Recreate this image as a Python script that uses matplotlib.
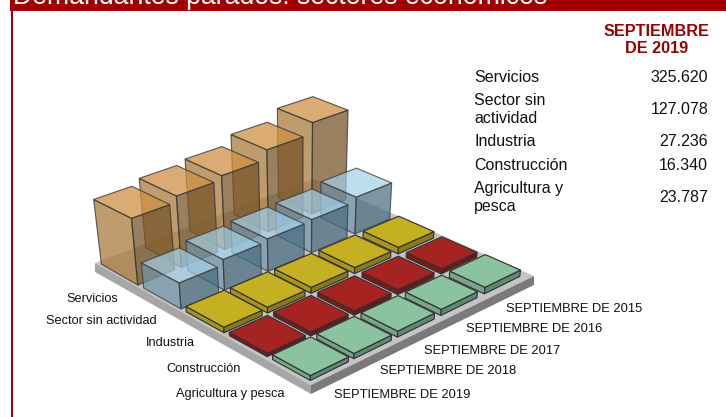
import numpy as np
import matplotlib
matplotlib.use('Agg')
import matplotlib.pyplot as plt
from matplotlib.patches import Polygon, Rectangle

plt.rcParams['font.family'] = ['Liberation Sans', 'DejaVu Sans']

titulo = 'Demandantes parados: sectores económicos'
anios = ['SEPTIEMBRE DE 2019', 'SEPTIEMBRE DE 2018', 'SEPTIEMBRE DE 2017',
         'SEPTIEMBRE DE 2016', 'SEPTIEMBRE DE 2015']
sectores = ['Agricultura y pesca', 'Construcción', 'Industria',
            'Sector sin actividad', 'Servicios']

# values per year, 2019 first; only 2019 is printed in the picture
agricultura = [23787, 26000, 29000, 30000, 32000]
construccion = [16340, 20000, 22000, 24000, 25000]
industria = [27236, 28000, 29000, 29500, 32000]
sin_actividad = [127078, 150000, 159000, 162000, 180000]
servicios = [325620, 348000, 361000, 401000, 448000]
series = [agricultura, construccion, industria, sin_actividad, servicios]

# top, left and right face colours, alpha
estilos = [('#8BC2A0', '#78A58A', '#5E8A70', 1),
           ('#A52421', '#7A1A18', '#6E1816', 1),
           ('#C4B020', '#A8961C', '#8A7A18', 1),
           ('#A2D0E9', '#7095AB', '#476A7E', 0.7),
           ('#CE9144', '#AA7B3E', '#775529', 0.75)]

# picture of the cell grid corners: front, right, back, left
F, R, B, L = [np.array(p, float) for p in [(310.3, 383.2), (527.75, 276.25), (312.25, 180.75), (94.7, 263.75)]]
placa = [(311, 385), (534, 276), (314, 179), (95, 263)]
caida = 9
fuga_x = 300
kx = 1.2e-7
ky = 1.996e-4
mitad = 0.43


def suelo(u, v):
    s, t = u / 5, v / 5
    return (1 - s) * (1 - t) * F + s * (1 - t) * R + s * t * B + (1 - s) * t * L


def caja(ax, uc, vc, z, estilo, borde='#333333', lw=0.85):
    top, izq, der, alpha = estilo
    gc = suelo(uc, vc)
    m = 1.03 - 0.018 * uc  # cells get smaller towards the right
    plano = 1 - 3e-7 * z   # high tops look flatter
    s = 1 + kx * z
    cima = []
    base = []
    for a, b in [(-1, -1), (1, -1), (1, 1), (-1, 1)]:
        d = suelo(uc + a * mitad, vc + b * mitad) - gc
        x = gc[0] + (gc[0] - fuga_x) * kx * z + m * d[0]
        cima.append((x, gc[1] - ky * z + m * plano * d[1]))
        base.append((fuga_x + (x - fuga_x) / s, gc[1] + m * d[1]))
    orden = 20 - uc - vc
    ax.add_patch(Polygon([base[0], base[3], cima[3], cima[0]], fc=izq, ec=borde, lw=lw, alpha=alpha, zorder=orden))
    ax.add_patch(Polygon([base[1], base[0], cima[0], cima[1]], fc=der, ec=borde, lw=lw, alpha=alpha, zorder=orden))
    ax.add_patch(Polygon(cima, fc=top, ec=borde, lw=lw, alpha=alpha, zorder=orden))


fig = plt.figure(figsize=(7.26, 4.17), dpi=100)
ax = fig.add_axes([0, 0, 1, 1])
ax.set_xlim(0, 726)
ax.set_ylim(417, 0)
ax.axis('off')

ax.add_patch(Rectangle((10, 0), 716, 11, fc='#A00000', ec='none'))
ax.add_patch(Rectangle((11, 11), 2.2, 406, fc='#A00000', ec='none'))
ax.text(13, 4, titulo, color='white', fontsize=19.2, ha='left', va='baseline')

# floor plate
bajo = [(x, y + caida) for x, y in placa]
ax.add_patch(Polygon(placa, fc='#C4C4C4', ec='none', zorder=1))
ax.add_patch(Polygon([placa[0], placa[3], bajo[3], bajo[0]], fc='#A6A6A6', ec='none', zorder=1))
ax.add_patch(Polygon([placa[0], placa[1], bajo[1], bajo[0]], fc='#7A7A7A', ec='none', zorder=1))

for j, serie in enumerate(series):
    for i, valor in enumerate(serie):
        caja(ax, i + 0.5, j + 0.5, valor, estilos[j])

# axis labels
x_sect = [176, 166, 146, 46, 66]
y_sect = [394, 368, 342, 320, 298]
for s, x, y in zip(sectores, x_sect, y_sect):
    ax.text(x, y + 0.5, s, fontsize=9.2, color='#111111', ha='left', va='center')
x_anio = [334, 380, 424, 466, 506]
y_anio = [395, 371, 351, 329, 309]
for s, x, y in zip(anios, x_anio, y_anio):
    ax.text(x, y + 0.5, s, fontsize=9.25, color='#111111', ha='left', va='center')

# table at the right
ax.text(656.5, 40, 'SEPTIEMBRE\nDE 2019', color='#990000', fontsize=11.7, fontweight='bold',
        ha='center', va='center', linespacing=1.12)
filas = ['Servicios', 'Sector sin\nactividad', 'Industria', 'Construcción', 'Agricultura y\npesca']
ultimos = [servicios[0], sin_actividad[0], industria[0], construccion[0], agricultura[0]]
y_filas = [77.5, 109.5, 141.5, 165.5, 197.5]
for s, v, y in zip(filas, ultimos, y_filas):
    ax.text(474, y, s, fontsize=11.5, color='#111111', ha='left', va='center', linespacing=1.2)
    ax.text(708, y, f'{v:,}'.replace(',', '.'), fontsize=11.5, color='#111111', ha='right', va='center')

fig.savefig('out.png', dpi=100)
